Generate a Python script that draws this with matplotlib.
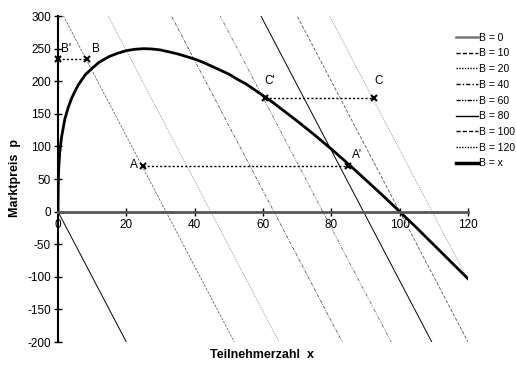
#! /usr/bin/env python3

# Marktpreis vs. Teilnehmerzahl with iso lines B = const and the curve B = x.

import matplotlib
matplotlib.use('Agg')
import matplotlib.pyplot as plt
from matplotlib.lines import Line2D
import numpy as np

plt.rcParams['font.family'] = ['Liberation Sans', 'DejaVu Sans']
plt.rcParams['axes.unicode_minus'] = False

# iso lines B = const: x where the line crosses p = 0, slope read as -10
iso_labels = ['B = 0', 'B = 10', 'B = 20', 'B = 40', 'B = 60', 'B = 80', 'B = 100', 'B = 120']
iso_x0 = [0, 31.6, 44.7, 63.2, 77.5, 89.4, 100, 109.5]
iso_slope = -10

# curve B = x
curve_x = [0, 0.1, 0.25, 0.5, 1, 2, 3, 4, 5, 6, 8, 10, 12, 15, 17.5, 20, 22.5, 25,
           27.5, 30, 32.5, 35, 37.5, 40, 42.5, 45, 47.5, 50, 52.5, 55, 57.5, 60,
           62.5, 65, 70, 75, 80, 85, 90, 95, 100, 105, 110, 115, 120]
curve_p = [0, 50, 70, 90, 113, 142, 160, 174, 185, 195, 210, 220, 229, 238, 243, 247,
           249, 250, 249.5, 248, 245, 242, 238, 234, 229, 223, 217, 211, 203, 196,
           187, 178, 169, 159, 139, 118, 96, 73, 49, 25, 0, -25, -51, -77, -103]

# marked points and their labels
pt_names = ["B'", 'B', 'A', "A'", "C'", 'C']
pt_x = [0, 8.6, 25, 85, 60.5, 92.5]
pt_p = [234, 234, 70, 70, 175, 175]


def main():
    fig = plt.figure(figsize=(5.16, 3.65), dpi=100)
    ax = fig.add_axes([0.1124, 0.063, 0.7946, 0.893])

    # line styles in the plot are fine, in the legend coarser
    dashes = [None, (3, 1.5), (1, 1.5), (4, 1.5, 1, 1.5), (4, 1.5, 1, 1.5, 1, 1.5),
              None, (4, 2), (1, 1.5)]
    leg_dashes = [None, (3, 1.5), (1, 1), (3, 1.5, 1, 1.5), (3, 1, 1, 1, 1, 1),
                  None, (3, 1.5), (1, 1)]
    colors = ['black', '#666666', '#777777', '#555555', '#666666', 'black', '#555555', '#777777']
    xs = np.array([0, 120])
    handles = []
    for lab, x0, d, ld, c in zip(iso_labels, iso_x0, dashes, leg_dashes, colors):
        line, = ax.plot(xs, iso_slope * (xs - x0), color=c, lw=0.7 if d is None else 0.6)
        if d is not None:
            line.set_dashes(d)
        h = Line2D([], [], color='black', lw=1)
        if ld is not None:
            h.set_dashes(ld)
        handles.append(h)
    handles[0].set_color('#777777')
    handles[0].set_linewidth(1.8)

    ax.plot(curve_x, curve_p, color='black', lw=2)
    handles.append(Line2D([], [], color='black', lw=2.5))

    # dotted connectors between the marked points
    for i in (0, 2, 4):
        ax.plot([pt_x[i], pt_x[i + 1]], [pt_p[i], pt_p[i + 1]], color='black',
                lw=1, dashes=(1.5, 1.5))
    ax.plot(pt_x, pt_p, 'x', color='black', ms=5, mew=1.5, clip_on=False)

    offs = {"B'": (1.0, 6, 'left'), 'B': (1.3, 6, 'left'), 'A': (-1.5, -8, 'right'),
            "A'": (1.0, 8, 'left'), "C'": (0.0, 16, 'left'), 'C': (0.0, 16, 'left')}
    for n, x, p in zip(pt_names, pt_x, pt_p):
        dx, dp, ha = offs[n]
        ax.text(x + dx, p + dp, n, fontsize=8.5, ha=ha, va='bottom')

    ax.set_xlim(0, 120)
    ax.set_ylim(-200, 300)
    ax.spines['left'].set_position(('data', 0))
    ax.spines['bottom'].set_position(('data', 0))
    ax.spines['right'].set_visible(False)
    ax.spines['top'].set_visible(False)
    ax.spines['left'].set_linewidth(1.5)
    ax.spines['bottom'].set_linewidth(2)
    ax.spines['bottom'].set_color('#555555')
    ax.set_xticks(np.arange(0, 121, 20))
    ax.set_yticks(np.arange(-200, 301, 50))
    ax.tick_params(direction='inout', length=6, width=1, labelsize=8.5, pad=2)

    fig.text(0.029, 0.512, 'Marktpreis  p', rotation=90, fontsize=9, fontweight='bold',
             ha='center', va='center')
    fig.text(0.508, 0.027, 'Teilnehmerzahl  x', fontsize=9, fontweight='bold',
             ha='center', va='center')

    fig.legend(handles, iso_labels + ['B = x'], loc='upper left',
               bbox_to_anchor=(0.876, 0.922), frameon=False,
               fontsize=7.5, handlelength=2.1, handletextpad=0.1, labelspacing=0.55,
               borderaxespad=0)

    fig.savefig('out.png', dpi=100)


if __name__ == "__main__":
    main()
